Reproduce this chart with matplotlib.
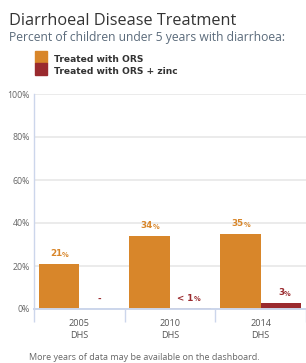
import matplotlib
matplotlib.use("Agg")
import matplotlib.pyplot as plt
import numpy as np
from matplotlib.transforms import offset_copy
from matplotlib.patches import Rectangle

categories = ["2005\nDHS", "2010\nDHS", "2014\nDHS"]
ors = [21, 34, 35]
ors_zinc = [0, 0.3, 3]
ors_labels = ["21", "34", "35"]
zinc_labels = ["-", "< 1", "3"]
zinc_has_pct = [False, True, True]
yticks = [0, 20, 40, 60, 80, 100]

ORANGE = "#D8862A"
RED = "#9A2A2E"

W, H = 306, 363
fig = plt.figure(figsize=(W / 100, H / 100), dpi=100)
ax = fig.add_axes([34 / W, (H - 309) / H, (306 - 34) / W, (309 - 94) / H])

x = np.arange(len(categories))
bw = 0.45
ax.bar(x - bw / 2, ors, width=bw, color=ORANGE, zorder=3)
ax.bar(x + bw / 2, ors_zinc, width=bw, color=RED, zorder=3)

ax.set_xlim(-0.5, 2.5)
ax.set_ylim(0, 100)
ax.set_yticks(yticks)
ax.set_yticklabels([f"{v}%" for v in yticks], fontsize=6.3, color="#666666", family="Open Sans")
ax.tick_params(axis="y", length=0, pad=3)
ax.grid(axis="y", color="#e8e8e8", linewidth=1.2, zorder=0)
ax.set_axisbelow(True)

ax.set_xticks([-0.5, 0.5, 1.5, 2.5])
ax.set_xticklabels([])
ax.tick_params(axis="x", length=9, width=1, color="#ccd6eb")
for i, c in enumerate(categories):
    ax.text(i, -4.6, c, ha="center", va="top", fontsize=6.6, color="#555555",
            family="Open Sans", linespacing=1.45)

for s in ["top", "right"]:
    ax.spines[s].set_visible(False)
for s in ["left", "bottom"]:
    ax.spines[s].set_color("#ccd6eb")
    ax.spines[s].set_linewidth(1.4 if s == "bottom" else 1)
    ax.spines[s].set_zorder(5)


def value_label(xc, yv, num, color, pct=True):
    t_num = offset_copy(ax.transData, fig=fig, x=0, y=10, units="dots")
    if pct:
        ax.text(xc + 0.035, yv, num, transform=t_num, ha="right", va="center",
                fontsize=6.3, fontweight="bold", color=color, family="DejaVu Sans")
        ax.text(xc + 0.035, yv, "%", transform=offset_copy(ax.transData, fig=fig, x=0, y=9, units="dots"),
                ha="left", va="center", fontsize=4.8, fontweight="bold", color=color, family="DejaVu Sans")
    else:
        ax.text(xc, yv, num, transform=t_num, ha="center", va="center",
                fontsize=6.3, fontweight="bold", color=color, family="DejaVu Sans")


for i in range(len(categories)):
    value_label(x[i] - bw / 2, ors[i], ors_labels[i], ORANGE)
    value_label(x[i] + bw / 2, ors_zinc[i] if zinc_has_pct[i] else 0, zinc_labels[i], RED, zinc_has_pct[i])

fig.text(9 / W, 1 - 21 / H, "Diarrhoeal Disease Treatment", ha="left", va="center",
         fontsize=11.7, color="#333333", family="Open Sans")
fig.text(9 / W, 1 - 37.5 / H, "Percent of children under 5 years with diarrhoea:", ha="left", va="center",
         fontsize=8.7, color="#5b6b7b", family="Open Sans")

fig.patches.append(Rectangle((35 / W, 1 - 63 / H), 11.5 / W, 12 / H, transform=fig.transFigure,
                             color=ORANGE, figure=fig))
fig.patches.append(Rectangle((35 / W, 1 - 75 / H), 11.5 / W, 12 / H, transform=fig.transFigure,
                             color=RED, figure=fig))
fig.text(54 / W, 1 - 60 / H, "Treated with ORS", ha="left", va="center",
         fontsize=6.6, fontweight="bold", color="#333333", family="DejaVu Sans")
fig.text(54 / W, 1 - 71 / H, "Treated with ORS + zinc", ha="left", va="center",
         fontsize=6.6, fontweight="bold", color="#333333", family="DejaVu Sans")

fig.text(144 / W, 1 - 357 / H, "More years of data may be available on the dashboard.", ha="center",
         va="center", fontsize=6.5, color="#666666", family="Open Sans")

fig.savefig("out.png", dpi=100)
